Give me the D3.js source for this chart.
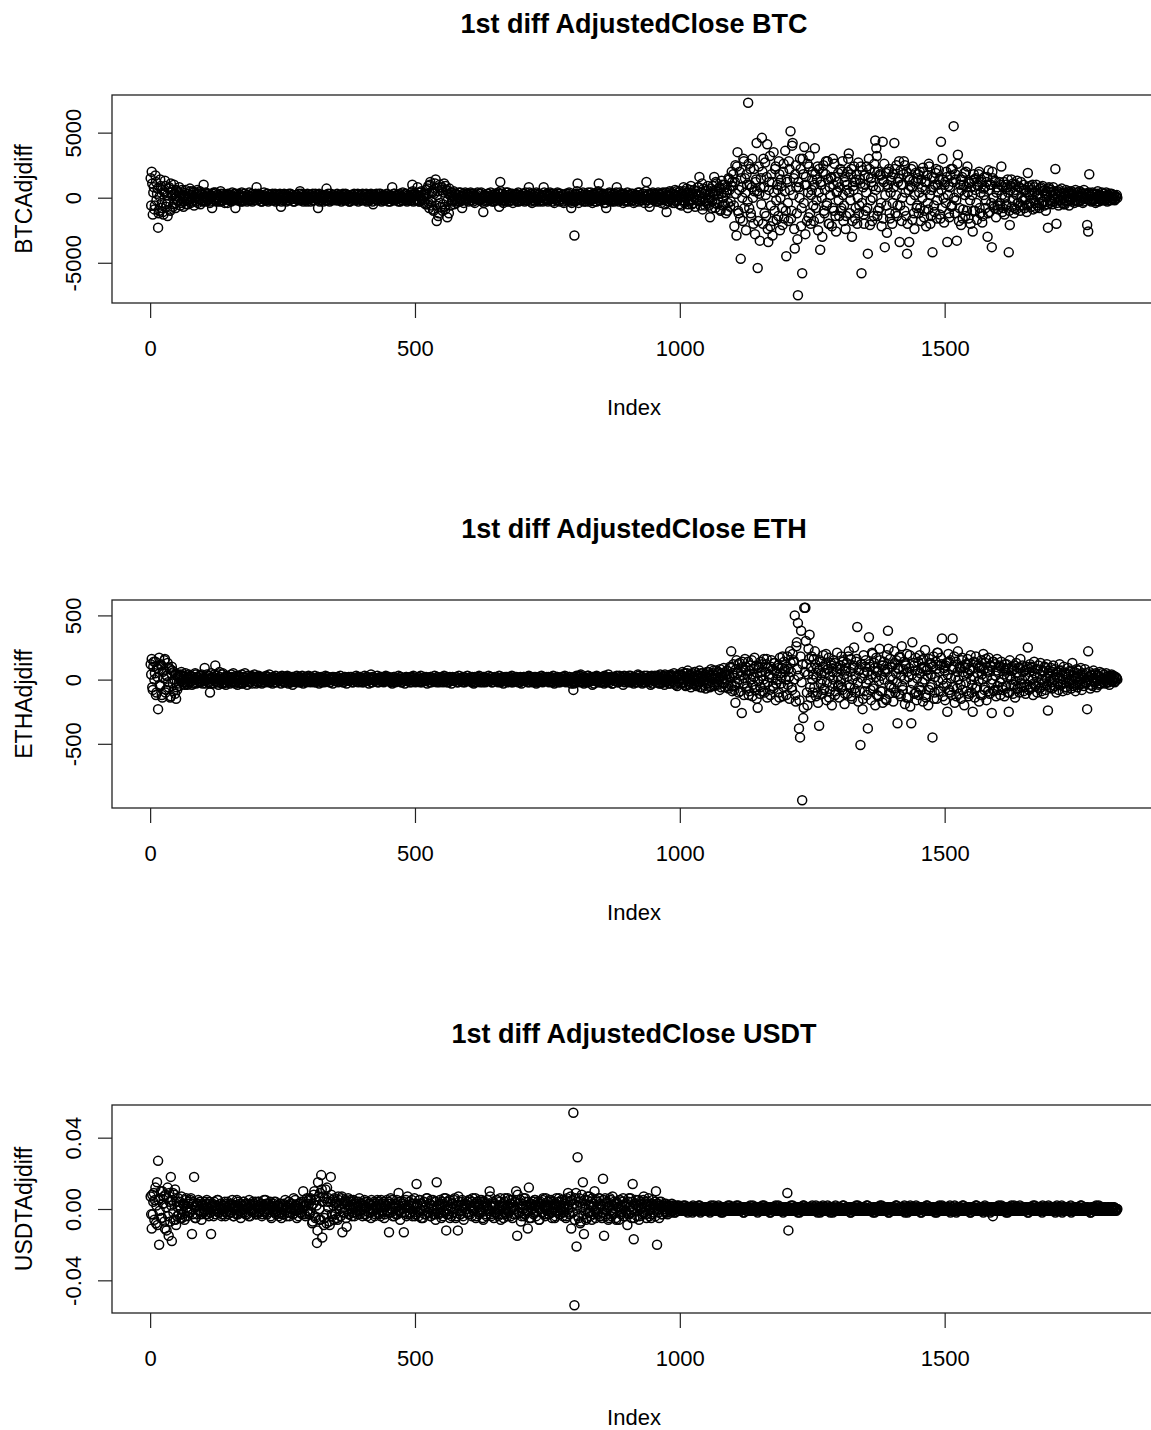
<!DOCTYPE html>
<html>
<head>
<meta charset="utf-8">
<script src="https://cdn.jsdelivr.net/npm/d3@7"></script>
<style>
body { margin: 0; background: #fff; }
</style>
</head>
<body>
<div class="plots"></div>
<script>
// first differences of adjusted close, 1826 days per coin.
// each coin is kept as two arrays: odd indices (1, 3, ... 1825) and even indices (2, 4, ... 1826)
const nDays = 1826;

// BTC, in hundreds of USD
const btcOdd = [
15, 20, -13, 8, -6, 12, 3, -23, -10, 14, -8, 6, -13, 4, 9, -5, -14, 7, -9, 11, 2, -7, 10, -4, 6,
5, -3, 8, -6, 2, 4, -7, 1, 6, -2, -5, 3, 7, -4, 0, 5, -6, 2, -3, 6, -1, 4, -5, 3, -2,
10, -3, 4, 1, -2, 3, -4, 2, -8, 3, -1, 4, -3, 2, 0, -2, 5, -3, 1, 3, -4, 2, -1, 3, -2,
2, -3, 4, -1, 3, -8, 1, -2, 3, 0, -3, 4, -2, 1, 3, -1, -3, 2, 4, -2, 1, -3, 2, 0, 3,
8, -2, 3, -1, 2, -3, 1, 4, -2, 0, 3, -3, 2, -1, 1, 3, -2, 2, -3, 0, 2, -1, 3, -7, 1,
-2, 3, 0, -3, 2, 1, -2, 3, -1, 2, -3, 1, 0, 2, -2, 3, 5, -1, 2, -3, 1, 0, -2, 3, -1,
2, -3, 1, 3, -2, 0, 2, -1, -8, 3, -2, 1, 2, -3, 0, 2, 7, -2, 1, -3, 3, 0, -1, 2, -2,
1, 3, -2, 0, 2, -3, 1, 2, -1, 3, -2, 0, 1, -3, 2, 1, -2, 3, 0, -1, 2, -3, 1, 2, -2,
3, -1, 0, 2, -3, 1, 2, -2, 3, 0, -5, 2, -1, 3, -2, 1, 0, 3, -3, 2, 1, -2, 0, 3, -1,
2, -3, 1, 8, -2, 3, 0, -1, 2, -3, 3, 1, -2, 4, -1, 0, 3, -3, 2, 1, -2, 4, 10, -3, 2,
3, -2, 8, 1, -3, 4, -1, 2, -4, 3, 6, -5, 9, -8, 12, -6, 4, -10, 7, 14, -18, 5, -12, 10, -7,
8, -5, 11, -9, 6, -15, 3, 7, -6, 4, -3, 5, -2, 3, -4, 2, 4, -3, 1, -8, 3, -2, 4, -1, 2,
-3, 2, 4, -2, 1, 3, -4, 0, 2, -1, 3, -2, 4, -3, -11, 2, 1, -3, 3, 0, -2, 4, -1, 2, -3,
3, 1, -2, 4, -7, 12, -2, 3, -4, 1, 2, -3, 4, 0, -2, 3, 1, -4, 2, -1, 3, -3, 4, -2, 1,
-2, 3, 0, -3, 4, 1, -2, 8, -1, 3, -4, 2, 0, -3, 4, -2, 1, 3, -2, 0, -3, 8, 2, -1, 3,
-3, 2, 4, -1, 0, 3, -4, 2, -2, 4, 1, -3, 3, -1, 2, -4, 0, 3, -2, 1, 4, -3, -8, 2, -1,
-29, 3, -2, 11, -4, 1, 3, -2, 4, -3, 0, 2, -1, 4, -3, 2, 1, -4, 3, -1, 2, -3, 4, 11, -2,
3, -1, 2, -4, 0, -8, 3, -2, 4, 1, -3, 2, -1, 3, -2, 8, 0, -3, 4, -1, 2, -4, 3, 1, -2,
4, -3, 1, 2, -2, 3, -4, 0, 2, -1, 4, -3, 2, 1, -2, 3, -4, 1, 12, -2, 3, -7, 2, -1, 4,
-2, 3, -3, 1, 4, -1, 2, -4, 3, 0, -2, 4, -11, 2, -3, 5, -1, 3, -4, 2, 6, -3, 1, 4, -5,
5, -6, 3, 8, -4, 2, 7, -8, 4, -3, 9, -5, 1, 6, -7, 3, -2, 8, 16, -6, 4, -9, 7, -3, 5,
-4, 9, -6, -15, 7, -3, 5, 16, -8, 11, -5, 3, 8, -10, 13, -6, 4, 10, -12, 6, -4, 14, -7, 9, 12,
18, -22, 25, -29, 35, -12, 20, -47, 8, -18, 28, 15, -25, 10, 73, -8, 22, -15, 30, -20, 5, 12, 42, -54, 24,
-33, 15, 46, -20, 8, 27, -14, 41, -34, 12, -22, 18, -29, 35, -10, 24, -17, 6, 28, -25, 14, -8, 20, -16, 36,
-45, 12, -18, 22, 51, -10, 42, 15, -39, 25, -12, -75, 8, 30, -22, -58, 18, 39, -28, 10, 26, -15, 32, -20, 6,
20, -18, 38, -8, 14, -25, 22, -40, 10, -30, 25, -12, 18, -6, 28, -20, 8, 15, -22, 30, -10, 16, -26, 5, 19,
-14, 22, -8, 28, -18, 12, -24, 6, 20, 34, -12, 18, -30, 9, 24, -16, 14, -20, 27, -6, 11, -58, 21, -13, 17,
-10, 24, -43, 30, -21, 15, -18, 9, 26, 44, 38, -14, 20, -8, 17, -22, 43, 12, -38, 19, -27, 8, 22, -16, 13,
-20, 18, 42, -12, 25, -6, 15, -34, 21, -18, 10, 28, 25, -14, -43, 16, -34, 9, 22, -17, 13, -24, 19, -8, 15,
-12, 20, -18, 8, 23, -15, 12, -22, 17, -9, 24, -20, 6, -42, 15, -11, 19, -16, 10, 21, -13, 43, -8, 14, -19,
12, 20, -34, 9, -15, 17, -7, 22, 55, -12, 14, -33, 33, -18, 10, -21, 16, -9, 19, -14, 8, 24, -16, 11, -20,
13, -26, 18, -10, 15, -17, 9, 20, -12, 14, -19, 7, 16, -8, 12, -30, 21, -11, 10, -38, 15, -6, 13, -15, 8,
-9, 12, -6, 24, -11, 8, -13, 10, -5, 14, -42, -21, 9, -7, 11, -12, 6, -9, 13, -4, 8, -10, 7, -6, 10,
-8, 6, -11, 19, -5, 9, -7, 4, -9, 8, -4, 10, -6, 3, -8, 7, -5, 9, -3, 6, -10, 5, -23, 8, -4,
6, -5, 8, -3, 22, -20, 5, -6, 4, -2, 7, -4, 3, -5, 6, -2, 4, -6, 3, 5, -3, 2, -4, 6, -2,
4, -3, 5, -2, 3, -4, 6, -1, 3, -21, -26, 18, 2, -3, 4, -2, 3, -4, 1, 5, -3, 2, -2, 4, -1,
3, -2, 4, -3, 2, 1, -2, 3, -1, 2, -2, 1, 2
];
const btcEven = [
-6, 11, 4, -9, 17, -2, 7, -12, 1, 9, -4, -11, 5, 13, -7, 2, -3, 8, -10, 4, 6, -5, 3, -8, 1,
-2, 4, 0, -4, 6, 1, -3, 2, -5, 3, 0, -1, 5, -3, 2, 4, -2, 0, 3, -4, 1, 5, -1, 2, -3,
1, -2, 0, 3, -1, 2, -3, 0, 1, 4, -2, 0, 2, -1, -3, 1, 3, -2, 0, 2, -1, 1, -4, 2, 0,
-1, 2, 1, -2, 0, 3, -1, -2, 1, 2, 0, -3, 1, 3, -1, 0, 2, -2, 1, -1, 3, 0, -2, 1, 2,
0, -1, 2, 1, -3, 0, 2, -1, 1, -2, 3, 0, -1, 2, -2, 1, 0, 3, -1, -2, 1, 2, 0, -3, 1,
2, -1, 0, 1, -2, 3, 0, -1, 2, 1, -3, 0, 2, -1, 1, 0, -2, 3, 1, -1, 0, 2, -3, 1, 0,
-1, 2, 0, -2, 1, 3, -1, 0, 2, -3, 1, 0, -1, 2, 1, -2, 0, 3, -1, 1, -2, 0, 2, -1, 1,
0, -2, 2, 1, -1, 0, 3, -2, 1, 0, -1, 2, -3, 1, 0, 2, -1, 1, -2, 0, 3, -1, 0, 2, -2,
1, 0, -1, 3, -2, 0, 1, 2, -1, -3, 0, 2, 1, -2, 0, 3, -1, 1, 0, -2, 2, -1, 1, 0, -3,
1, 2, -1, 0, 3, -2, 1, 0, -1, 2, -3, 1, 0, 2, -1, 3, -2, 0, 1, -1, 2, 0, 5, -2, 1,
-1, 2, 4, -3, 1, 5, -2, 0, 3, -5, 2, 7, -4, 10, -3, 5, -9, 3, 11, -6, 2, -14, 8, -4, 6,
-10, 4, -7, 9, -3, 5, -12, 2, 4, -2, 1, -5, 3, 0, -3, 2, -1, 4, -2, 1, -4, 2, 0, 3, -1,
1, -2, 3, 0, -3, 2, 1, -1, 4, -2, 0, 3, -1, 1, -4, 2, 0, -2, 3, 1, -1, 2, -3, 0, 1,
-2, 2, 0, -1, 3, 5, -3, 1, 0, -2, 4, -1, 2, -3, 1, 0, 3, -2, 1, -1, 2, 0, -3, 1, 2,
-1, 1, 3, -2, 0, 2, -1, 4, -3, 1, 0, -2, 3, 1, -1, 2, -3, 0, 1, 2, -2, 4, 0, -1, 2,
-2, 1, 3, 0, -3, 2, -1, 1, 0, 3, -2, 1, -1, 2, -3, 0, 2, 1, -1, 3, 0, -2, -4, 1, 0,
-3, 2, 5, -1, 0, 3, -2, 1, 2, -1, -3, 0, 2, 1, -2, 4, -1, 0, 2, -3, 1, 3, 5, -2, 0,
1, -2, 3, 0, -4, 2, 1, -1, 3, -2, 0, 2, -3, 1, 4, -1, 2, 0, -2, 3, -1, 1, 0, -3, 2,
0, 2, -1, 3, -2, 1, 0, -3, 2, 1, -1, 4, -2, 0, 3, -1, 1, 5, -2, 2, -4, 0, 3, -1, 1,
-1, 2, 0, -3, 1, 3, -2, 0, 4, -1, -5, 2, 1, -3, 2, 4, -2, 0, 3, -4, 1, 5, -2, 2, 0,
3, -2, 1, 5, -3, 0, 4, -5, 2, 6, -1, 3, -4, 0, 5, -2, 8, 2, -3, 4, 11, -1, 3, -6, 2,
6, -2, 0, 4, -8, 9, 2, -4, 12, 5, -1, 7, -9, 3, 10, 0, -5, 8, 4, -10, 15, 6, -3, 20, 9,
-6, 12, 3, 24, -10, 6, -16, 15, 0, 30, -8, 4, 18, -3, 26, 10, -12, 8, 0, 22, -28, 14, 5, -18, 3,
8, -5, 20, 30, -12, 2, 16, -24, 6, 32, -6, 12, -18, 4, 22, -2, 10, -14, 18, 0, 9, -21, 26, 5, -10,
14, -4, 28, 6, -16, 40, 2, -24, 18, 8, -32, 12, 0, 22, -8, 30, -4, 10, 16, -18, 4, 24, -12, 2, 14,
-6, 10, 18, -2, 24, 4, -16, 12, 0, 20, -10, 6, 28, -4, 14, -20, 2, 16, -8, 10, 26, -14, 4, 12, -2,
8, -10, 20, 2, -6, 16, -14, 10, 30, 4, -2, 22, -18, 6, 12, -8, 18, 0, -12, 14, 24, -4, 8, -20, 10,
4, -8, 16, 22, -2, 12, 0, -14, 20, 6, 32, -10, 8, 18, -4, 14, -16, 26, 2, -6, 10, 20, -12, 4, 16,
-4, 8, 22, 2, -14, 12, 28, -6, 10, 0, 18, -10, 4, 20, -20, 6, 14, -2, 8, 24, -12, 2, 12, -6, 18,
4, -8, 14, 0, 20, -10, 6, 12, -4, 26, 2, -14, 16, 8, -6, 10, 22, -2, 4, 14, -16, 6, 30, 0, 10,
-4, 16, 2, -12, 8, 22, -6, 12, 0, 18, -2, 26, 4, -8, 14, 6, -16, 10, 2, 20, -10, 4, 12, -2, 8,
2, -10, 14, 6, -4, 10, 18, -8, 4, 12, -14, 2, 8, -2, 16, -12, 6, 10, -4, 20, 0, -8, 12, 4, -6,
6, -4, 10, 2, -8, 12, 0, -6, 8, 4, -10, 6, 14, -2, 4, -8, 10, 2, -4, 8, -6, 12, 0, -2, 6,
-2, 4, -6, 8, 2, -4, 6, 10, -2, 4, -8, 2, 6, -4, 0, 8, -3, 5, -6, 3, 1, -5, 7, -2, 4,
-3, 2, 5, -1, 3, -4, 1, 6, -2, 3, 0, -5, 4, 2, -3, 1, 5, -1, -2, 3, 0, 4, -2, 1, -3,
2, 0, -2, 4, 1, -3, 3, 0, 2, -1, 4, -2, 1, 3, -1, 0, 2, -3, 3, 1, -1, 2, 0, -2, 3,
1, -1, 2, 0, -2, 3, 1, -1, 0, 2, -1, 1, 0
];

// ETH, in tens of USD
const ethOdd = [
12, 16, -8, 14, 5, -12, 9, -23, 17, -5, 11, -14, 7, 15, -10, 3, 13, -6, 8, -13, 10, -3, 6, -11, -15,
-8, 4, -5, 3, 6, -2, 2, -4, 5, -3, 1, 4, -2, 3, -4, 2, 0, 5, -3, 2, -1, 3, -2, 4, -3,
2, 9, -3, 4, -2, 3, -10, 5, 1, -3, 4, 11, -2, 3, -4, 6, 0, -3, 5, -2, 2, -4, 3, -1, 2,
-3, 4, -2, 5, 1, -3, 2, -4, 3, 0, -2, 4, -3, 2, 5, -1, -4, 3, 1, -2, 3, -3, 2, 4, -1,
2, -2, 3, -1, 1, -3, 2, 0, -2, 3, -1, 2, 4, -2, 1, -3, 2, 0, 3, -2, 1, -1, 2, -3, 3,
-1, 2, -2, 0, 3, -3, 1, 2, -1, -4, 2, 0, -2, 3, 1, -2, 2, -1, 3, -3, 0, 2, -2, 1, 3,
1, -2, 2, 0, -1, 3, -2, 1, 2, -3, 0, 2, -1, 1, -2, 3, 0, -1, 2, -2, 1, 0, -3, 2, 1,
-1, 2, -2, 0, 3, -1, 1, -2, 2, 0, -3, 1, 2, -1, 0, 2, -2, 1, -1, 3, 0, -2, 1, 2, -1,
0, -2, 3, 1, -1, 2, -3, 0, 4, -2, 2, 1, -1, 0, 3, -2, 1, -1, 2, 0, -2, 1, 3, -1, 0,
2, -1, 1, -3, 0, 2, -2, 1, 0, 3, -1, 2, -2, 0, 1, -3, 2, 1, -1, 0, 2, -2, 1, 3, -1,
-2, 1, 0, 2, -1, 3, -2, 0, 1, -1, 2, -3, 1, 0, 2, -2, 1, -1, 3, 0, -2, 2, 1, -1, 0,
1, -2, 3, 0, -1, 2, -2, 1, 0, -3, 2, 1, -1, 2, 0, -2, 3, -1, 1, 0, -2, 2, -1, 1, 3,
-1, 0, 2, -2, 1, -3, 2, 0, 1, -1, 3, -2, 0, 1, 2, -1, -2, 1, 0, 3, -1, 2, -2, 0, 1,
2, -1, 0, -2, 3, 1, -1, 2, -3, 0, 1, 2, -2, 1, -1, 0, 3, -2, 1, 2, -1, 0, -2, 1, 2,
-3, 1, 2, -1, 0, 2, -2, 3, 1, -1, 0, -2, 2, 1, -3, 0, 2, -1, 1, 3, -2, 0, 1, -1, 2,
0, -2, 1, 2, -1, 3, -3, 1, 0, 2, -2, 1, -1, 2, 0, -1, 3, -2, 1, 0, 2, -1, -3, 1, -8,
2, -1, 3, 0, -2, 1, 4, -1, 2, -3, 0, 1, -2, 3, -1, 2, 0, -4, 1, 2, -1, 3, -2, 0, 1,
-2, 2, 1, -3, 0, 2, -1, 4, -2, 1, 0, -3, 2, 1, -1, 3, -2, 0, 2, -1, 1, -4, 3, 0, -1,
2, -2, 1, 3, -1, 0, -3, 2, 1, -2, 4, -1, 0, 2, -3, 1, 3, -2, 0, 1, -1, 2, -4, 3, 1,
-1, 3, -2, 2, 0, -3, 4, 1, -2, 3, -4, 2, 0, -1, 3, -3, 4, 1, -2, 5, -3, 2, -5, 4, 3,
4, -3, 6, -2, 5, -5, 2, 7, -4, 3, -6, 5, 1, -3, 6, -5, 4, -2, 7, -6, 3, 5, -4, 2, -7,
6, -3, 4, -6, 8, -2, 5, -5, 3, 7, -4, 6, -8, 2, 5, -3, 9, -6, 4, 7, -5, 3, 10, 22, -9,
12, -8, -18, 15, 5, -10, 13, 3, -26, 9, -12, 16, 7, -5, 14, -9, 11, 4, -13, 8, 17, -6, -15, -22, 10,
-11, 14, 6, -9, 16, -4, 12, -14, 9, 2, -12, 15, 8, -7, 13, -16, 5, 11, -10, 17, -3, 9, -13, 14, 6,
-12, 18, 8, -15, 13, -6, 20, 15, 50, -17, 29, 44, -38, -45, 38, -94, -30, 56, 56, 12, -20, 24, 35, -14, 18,
-10, 16, 22, -13, 9, -18, -36, 14, 5, -11, 19, -7, 12, -16, 8, 17, -9, 13, -20, 6, 15, -12, 10, 21, -5,
-14, 11, 18, -8, 15, -19, 7, 13, -11, 22, -6, 16, -15, 9, 25, -10, 14, 41, -17, 8, -51, 12, -23, 19, -9,
15, -12, -38, 33, 10, -16, 21, -7, 13, -20, 17, 6, -13, 24, -9, 11, -18, 14, 8, -15, 19, 38, -11, 16, -6,
12, -17, 22, -10, 15, -34, 8, 18, -13, 26, -8, 14, -19, 11, 20, -14, 9, -21, -34, 29, 13, -11, 17, -16, 7,
-12, 19, -8, 15, -17, 10, 23, -14, 8, -20, 16, -6, 12, -45, 18, -10, 14, -15, 21, -9, 11, 17, 32, -13, 9,
-16, 13, -25, 20, -8, 15, -12, 32, 10, -18, 14, -7, 22, -11, 9, -15, 17, 6, -20, 12, -9, 16, -13, 8, 19,
-10, -25, 14, -14, 18, -6, 11, -17, 9, 15, -12, 20, -8, 13, -16, 7, 17, -11, 10, -26, 14, -9, 12, -13, 16,
-8, 11, -12, 14, -6, 9, -13, 7, 12, -10, -25, 15, -5, 10, -11, 8, -14, 13, -7, 9, -10, 16, -6, 11, -9,
7, -11, 10, 25, -8, 12, -6, 9, -12, 14, -5, 8, -10, 11, -7, 13, -9, 6, -11, 10, -8, 12, -24, 7, -6,
9, -7, 11, -5, 8, -10, 6, -8, 12, -4, 7, -9, 10, -6, 5, -8, 9, -3, 7, -7, 13, -5, 6, -9, 8,
-6, 7, -4, 9, -8, 5, -5, 8, -3, -23, 22, 6, -7, 4, -5, 7, -2, 5, -6, 3, -4, 6, -3, 5, -2,
4, -3, 5, -2, 3, -4, 2, 4, -1, 3, -2, 2, 1
];
const ethEven = [
4, -6, 10, 0, 14, -10, 2, 8, -4, 12, -12, 6, 1, 16, -8, 3, -2, 9, -14, 5, 7, -9, 0, 4, -6,
2, -3, 1, 4, -1, 0, 3, -2, 1, -4, 2, 0, 3, -1, 2, -3, 1, 4, -2, 0, 1, -2, 3, 0, -1,
1, -1, 2, 0, 3, -2, 1, -3, 2, 0, -1, 3, 1, -2, 0, 2, -1, 4, -3, 1, 0, -2, 2, 1, -1,
0, 2, -1, 1, -2, 3, 0, -1, 2, 1, -3, 0, 2, -2, 1, 0, 3, -1, -2, 1, 2, 0, -1, 2, -3,
1, 0, -1, 2, -2, 1, 0, 1, -1, 2, 0, -2, 1, -1, 0, 2, 1, -2, 0, 1, -1, 2, 0, -1, 1,
-2, 1, 0, 2, -1, 0, 1, -2, 2, 0, -1, 1, 0, -1, 2, 1, -2, 0, 1, -1, 0, 2, -1, 1, 0,
2, -1, 0, 1, -2, 1, 0, -1, 2, 0, 1, -2, 0, 1, -1, 2, 0, -1, 1, -2, 0, 2, 1, -1, 0,
-1, 2, 0, 1, -1, 0, -2, 1, 2, -1, 0, 1, -1, 2, 0, -2, 1, 0, -1, 1, 2, 0, -1, 1, -2,
0, 1, -1, 2, 0, -1, 1, 0, -2, 2, 1, -1, 0, 1, -2, 0, 2, -1, 1, 0, -1, 2, 0, 1, -1,
1, -2, 0, 1, 2, -1, 0, -1, 1, 0, 2, -2, 1, 0, -1, 1, 2, 0, -1, -2, 1, 0, 2, -1, 0,
-1, 1, 2, 0, -2, 1, -1, 0, 2, 1, -1, 0, 1, -2, 2, 0, -1, 1, 0, -1, 2, 1, -2, 0, 1,
2, 0, -1, 1, -2, 0, 1, 2, -1, 0, 1, -1, 0, 2, -2, 1, 0, -1, 1, 2, 0, -2, 1, -1, 0,
0, -1, 1, 2, -1, 0, -2, 1, 0, 2, -1, 1, 0, -2, 1, 2, 0, -1, 1, 0, -1, 2, -2, 0, 1,
1, 2, -1, 0, 1, -2, 0, 1, -1, 2, 0, -1, 1, 0, 2, -2, 1, -1, 0, 1, 2, -1, 0, -2, 1,
-1, 0, 2, 1, -1, 0, 1, -2, 2, 0, -1, 1, 0, 2, -1, -2, 1, 0, 1, -1, 2, 0, -1, 1, 0,
2, -1, 1, 0, -2, 1, 0, -1, 2, 1, 0, -2, 1, -1, 0, 2, -1, 1, 0, -1, 2, 0, 1, -2, -3,
-2, 1, 0, 2, -1, 3, 0, -2, 1, 2, -1, 0, 3, -2, 1, 0, -1, 2, -3, 1, 0, 2, -1, 1, -2,
0, 2, -1, 3, -2, 1, 0, -1, 2, 0, -3, 1, 2, -1, 0, 1, -2, 3, 0, -1, 2, 1, -2, 0, 1,
-1, 3, 0, -2, 1, 2, -1, 0, -2, 1, 3, 0, -1, 2, -2, 0, 1, -1, 3, 1, -2, 0, 2, -3, 0,
2, -1, 0, 3, -2, 1, -3, 2, 0, -1, 4, -2, 1, 0, -3, 2, 3, -1, 0, 2, -4, 1, 3, -2, 0,
1, -2, 3, 0, -4, 2, 5, -1, 0, 4, -3, 2, -1, 6, 0, -4, 3, 1, -2, 5, -6, 2, 0, 4, -3,
2, 6, -1, -5, 3, 0, 7, -4, 1, 5, -2, 0, 8, -6, 3, 1, -3, 6, 0, 4, -7, 2, 9, -5, 5,
3, -5, 8, -2, 12, 0, -9, 6, 14, -3, 1, 10, -7, 4, -12, 7, 0, 15, -4, 2, -8, 11, 5, -1, 9,
-6, 3, 12, 0, -10, 6, 16, -2, 4, -8, 10, 1, -5, 13, 7, -3, 0, 9, -14, 5, 2, 18, -6, 8, 0,
10, -4, 2, 22, 6, -8, 14, 0, -12, 26, 8, 3, -16, 18, -2, 12, -22, 6, 30, -10, 4, 16, -6, 9, 0,
4, -6, 12, 2, -10, 7, 15, -3, 0, 10, -8, 5, 20, -2, 8, -14, 3, 11, -5, 0, 13, -9, 6, 2, -4,
8, 0, -6, 14, 4, -11, 9, 2, 18, -4, 6, -13, 0, 11, -7, 3, 16, -2, 7, -9, 12, 1, -15, 5, 10,
-3, 6, 0, 12, -8, 4, 20, -5, 9, 2, -12, 7, -1, 15, 3, -9, 11, 0, 6, -16, 8, 24, -4, 2, 10,
0, -7, 13, 5, -2, 9, -11, 17, 3, -5, 8, 0, 12, -14, 6, 2, 19, -8, 4, -3, 11, 7, -10, 1, 14,
-6, 5, 9, -2, 16, 0, -12, 7, 3, -8, 13, 4, -4, 10, -15, 2, 8, 21, -1, 6, -9, 12, 0, -5, 7,
11, -3, 4, 14, -10, 1, 8, -6, 18, 2, -13, 6, 0, 10, -4, 15, -8, 3, 9, -2, 12, 5, -11, 7, 0,
-4, 9, 2, -7, 13, 5, -1, 10, -12, 4, 0, 8, -6, 16, 2, -9, 6, 11, -3, 0, 14, -8, 3, 7, -5,
6, -2, 10, 0, -8, 4, 12, -5, 2, 8, -10, 3, 0, 7, -4, 11, -1, 5, -7, 2, 9, -3, 0, 6, -6,
3, 8, -4, 1, 6, -7, 10, 0, -3, 5, -5, 2, 8, -2, 4, -6, 0, 7, -3, 9, 1, -4, 5, -1, 3,
-2, 6, 0, -5, 4, 2, -3, 7, 1, -4, 3, 0, 5, -2, -6, 2, 4, -1, 6, 0, -3, 3, 1, -4, 5,
2, -1, 4, 0, -3, 3, 1, -2, 5, -1, 0, 2, -4, 3, 1, -2, 4, 0, -1, 3, -3, 2, 0, 1, -2,
1, -1, 2, 0, -2, 1, 3, -1, 0, 2, -1, 1, 0
];

// USDT, in thousandths of USD
const usdtOdd = [
7, -11, -3, 9, 5, -8, 15, 27, -20, 6, -5, 10, 3, -7, 8, -12, 12, -15, 4, 18, -18, 9, -6, 11, -9,
-4, 6, 2, -5, 7, -3, 3, -6, 5, 1, -4, 4, -2, 6, -14, 3, 18, -5, 2, -3, 5, -1, 4, -6, 3,
-2, 4, -3, 5, 1, -4, 3, -14, 2, -1, 4, -3, 2, 5, -2, 0, 3, -4, 2, -1, 4, -2, 3, -3, 1,
3, -2, 5, -4, 1, 2, -3, 4, -1, 3, -5, 2, 0, 4, -2, 3, -3, 1, 5, -4, 2, -1, 3, -2, 4,
-3, 2, 4, -1, 3, -4, 1, 5, -2, 3, -3, 2, 0, 4, -5, 1, 3, -2, 4, -1, 2, -4, 3, 1, -3,
2, -3, 5, 1, -2, 4, -4, 3, 0, -3, 6, -1, 2, -5, 3, 1, -2, 4, -3, 10, 2, -4, 3, -1, 5,
-3, 6, 2, -7, 8, -4, 5, -19, 15, -6, 9, 19, -16, 7, -5, 11, -8, 4, 6, -9, 18, -3, 5, -6, 3,
4, -5, 7, 2, -4, 6, -13, 3, -2, 5, -10, 4, -3, 2, 5, -4, 1, 3, -2, 4, -3, 2, 6, -1, 3,
-4, 2, 5, -3, 1, 4, -2, 3, -5, 2, 0, 4, -3, 1, 5, -2, 3, -4, 2, -1, 4, -3, 2, 5, -2,
-13, 3, -2, 5, 1, -4, 3, 2, -3, 9, -1, 4, -2, 3, -13, 2, 5, -3, 1, 4, -2, 3, -4, 2, 6,
-3, 14, 2, -4, 5, -1, 3, -5, 4, 1, -3, 6, -2, 3, -4, 5, 0, -3, 4, -6, 15, 2, -3, 5, -2,
3, -4, 6, -2, -12, 4, -3, 5, 1, -4, 3, -2, 6, -5, 2, -12, 4, -3, 2, 5, -4, 1, 3, -2, 4,
-3, 5, 2, -4, 6, -1, 3, -5, 4, 1, -3, 5, -2, 4, -6, 2, 3, -4, 5, -1, 10, -3, 2, 4, -5,
3, -2, 5, -4, 1, 6, -3, 2, -5, 4, 0, -3, 6, -2, 3, -4, 5, 1, -3, 4, 10, -15, 3, -2, 5,
-4, 2, 6, -3, 4, -1, -11, 12, 3, -5, 2, 4, -2, 5, -4, 1, 3, -6, 4, -2, 5, 2, -3, 6, -1,
4, -3, 2, 5, -5, 1, 3, -4, 6, -2, 4, -3, 1, 5, -4, 2, 3, -5, 6, 9, -2, 4, -11, 5, 54,
-54, 6, -21, 29, -5, 4, -7, 8, 15, -14, 3, -6, 5, -2, 7, -4, 2, 6, -3, 10, -5, 4, -2, 6, -4,
3, -5, 17, -15, 6, -3, 4, -6, 2, 5, -4, 7, -2, 3, -5, 4, 1, -6, 5, -3, 2, 6, -4, 3, -2,
-9, 4, -3, 6, -5, 14, -17, 3, 5, -4, 2, -6, 4, 1, -3, 5, -2, 4, -5, 3, 6, -4, 2, -3, 5,
-2, 4, 10, -20, 3, -5, 2, 4, -3, 1, 3, -2, 2, -3, 1, 2, -2, 3, -1, 2, -2, 1, 2, -1, 1,
1, -1, 0, 2, -1, 1, 0, -2, 1, 0, -1, 1, 2, -1, 0, 1, -1, 0, 2, -2, 1, 0, -1, 1, 0,
-1, 1, 0, -2, 2, 0, -1, 1, 0, 1, -1, 2, 0, -1, 1, -2, 0, 1, -1, 0, 2, -1, 1, 0, -1,
1, 0, -1, 2, -1, 0, 1, -1, 0, 1, -2, 1, 0, -1, 1, 0, 2, -1, 0, 1, -1, 0, 1, -2, 1,
0, -1, 1, 0, 2, -1, 0, 1, -1, 0, -2, 1, 1, -1, 0, 2, -1, 0, 1, 0, -1, 1, -2, 0, 1,
-1, 9, -12, 1, 0, -1, 2, 0, -1, 1, 0, -2, 1, 0, -1, 1, 2, -1, 0, 1, -1, 0, 1, -1, 0,
1, -1, 0, 2, -1, 0, 1, -2, 1, 0, -1, 1, 0, -1, 2, 0, -1, 1, 0, -2, 1, -1, 0, 1, 0,
-1, 1, 0, -1, 2, -1, 0, 1, 0, -1, 1, -2, 0, 1, -1, 0, 2, -1, 1, 0, -1, 1, 0, -1, 1,
0, 2, -1, 0, 1, -1, 0, -2, 1, 0, 1, -1, 0, 1, -1, 2, 0, -1, 1, 0, -1, 1, -2, 0, 1,
-1, 0, 1, -1, 2, 0, -1, 1, 0, -1, 1, 0, -2, 1, 0, -1, 1, 2, -1, 0, 1, -1, 0, 1, -1,
0, 1, -2, 1, 0, -1, 1, 0, 2, -1, 0, 1, -1, 0, 1, -1, 0, -2, 1, 0, 1, -1, 2, 0, -1,
1, 0, -1, 1, 0, -2, 1, -1, 0, 2, -1, 1, 0, -1, 0, 1, -1, 2, 0, -1, 1, 0, -1, 1, -2,
0, 1, -1, 0, 2, -1, 0, 1, -1, 0, 1, -2, 0, 1, -1, 0, 1, 0, -1, 1, -4, 1, 0, -1, 1,
0, -1, 1, 2, -1, 0, 1, -1, 0, -2, 1, 0, 1, -1, 0, 2, -1, 1, 0, -1, 1, 0, -1, 1, 0,
-1, 1, 0, -2, 1, 0, -1, 1, 2, -1, 0, 1, -1, 0, 1, -1, 0, 2, -1, 0, 1, -1, 1, 0, -1,
1, 0, -1, 1, -2, 0, 1, -1, 0, 1, 2, -1, 0, 1, -1, 0, 1, -1, 0, -2, 1, 0, -1, 1, 0,
1, -1, 0, 2, -1, 0, 1, -1, 0, 1, -1, 0, -2, 1, 0, 1, -1, 0, 1, -1, 2, 0, -1, 1, 0,
-1, 1, 0, -1, 1, 0, -1, 1, 0, 1, -1, 0, 0
];
const usdtEven = [
-3, 8, 4, -6, 12, 2, -9, 5, -1, 10, -5, 3, 7, -11, 1, 6, -4, 9, -7, 2, 5, -2, 8, -6, 4,
1, -3, 4, 0, -5, 3, 2, -4, 6, -1, 3, -2, 5, 0, -3, 4, 1, -5, 2, 3, -1, 4, -3, 2, 0,
2, -1, 3, -3, 0, 4, -2, 1, 3, -4, 2, 0, -1, 5, -2, 1, 3, -3, 0, 2, -4, 1, 4, -1, 2,
-2, 3, 1, -4, 2, 0, 5, -3, 1, -1, 3, -2, 4, 0, -3, 2, 1, -4, 3, -1, 0, 4, -2, 2, -3,
1, 4, -2, 0, 3, -3, 2, -1, 5, 0, -2, 3, 1, -4, 2, -1, 4, 0, -3, 2, 1, -2, 3, -5, 0,
3, -1, 2, -4, 1, 4, -2, 0, 3, -3, 1, 5, -1, 2, -4, 0, 3, -2, 1, 4, -3, 2, 6, -1, 3,
-2, 5, -8, 3, 10, -5, 2, -12, 7, 0, -6, 11, 4, -9, 6, -3, 12, 1, -7, 4, 8, -4, 2, 6, -3,
3, -6, 5, 0, -4, 7, -2, 4, 1, -5, 3, 6, -3, 0, 4, -2, 5, -4, 1, 3, -1, 4, -3, 2, 0,
2, -3, 4, 1, -4, 3, 0, -2, 5, -1, 3, -4, 2, 0, 4, -3, 1, 5, -2, 3, -5, 1, 2, -1, 4,
-2, 6, 0, -4, 3, 1, -3, 5, -1, 2, -6, 3, 0, 4, -2, 1, -4, 7, 2, -3, 0, 5, -1, 3, -4,
1, 3, -2, 5, 0, -5, 2, 4, -3, 1, 6, -2, 0, 3, -4, 2, 5, -1, -3, 4, 0, -2, 3, 1, -5,
4, -1, 2, 6, -3, 0, 4, -5, 1, 3, -2, 5, 0, -4, 2, 7, -1, -3, 4, 1, -6, 3, 0, 2, -2,
5, -3, 1, 4, -1, 0, 6, -4, 2, 3, -2, 0, 5, -5, 1, 4, -3, 2, 0, -1, 7, -4, 3, 1, -2,
2, 5, -3, 0, 4, -6, 1, 3, -2, 6, 0, -4, 2, 5, -1, 3, -5, 1, 0, 4, -3, 8, -2, 1, -7,
3, 0, -4, 6, 2, -2, 4, -5, 1, 3, 0, -3, 5, 2, -1, 4, -6, 0, 3, -2, 6, 1, -4, 2, 0,
-3, 5, 1, -2, 4, 0, -5, 3, 2, -1, 6, -3, 0, 4, -2, 1, 5, -4, 2, 0, -3, 7, 1, -2, 3,
-6, 9, 2, -4, 6, -8, 3, 1, -3, 5, 0, -5, 7, 2, -2, 4, -6, 1, 3, -1, 5, -3, 0, 6, -4,
2, -2, 5, 0, -4, 3, 1, -5, 6, -1, 2, -3, 4, 0, -6, 3, 1, 5, -2, 0, 4, -4, 2, -1, 3,
-3, 6, 1, -2, 4, 0, -5, 3, 2, -1, 5, -4, 0, 3, -2, 7, 1, -3, 2, 4, -1, 0, -5, 3, 1,
2, -4, 3, 0, -2, 4, 1, -3, 2, 0, -1, 3, -2, 1, 2, 0, -1, 1, 2, -2, 0, 1, -1, 2, 0,
0, 1, -1, 0, 2, -1, 0, 1, -1, 1, 0, -2, 1, 0, -1, 1, 0, 2, -1, 0, 1, -1, 0, 1, -1,
1, 0, -1, 1, 0, -1, 2, 0, -1, 1, 0, -1, 1, -2, 0, 1, -1, 0, 1, 0, -1, 2, -1, 0, 1,
-1, 0, 1, -1, 2, 0, -1, 1, 0, -2, 1, 0, -1, 1, 0, 1, -1, 0, 2, -1, 1, 0, -1, 0, 1,
0, -1, 2, 0, -1, 1, -1, 0, 1, -2, 0, 1, 1, -1, 0, 1, -1, 2, 0, -1, 0, 1, -1, 0, 1,
-1, 1, 0, -1, 2, 0, -1, 1, 0, -1, 1, 0, -2, 1, 0, -1, 2, 0, 1, -1, 0, 1, -1, 0, 2,
0, -1, 1, 0, -2, 1, 0, -1, 1, 2, -1, 0, 1, -1, 0, 1, -2, 0, 1, -1, 0, 2, -1, 0, 1,
1, -1, 0, 2, -1, 0, 1, -1, 0, 1, -2, 1, 0, -1, 1, 0, -1, 2, 0, -1, 1, 0, -1, 1, 0,
-1, 2, 0, -1, 1, 0, -1, 1, -2, 0, 1, -1, 0, 2, 1, -1, 0, 1, -1, 0, 1, -2, 0, 1, -1,
0, 1, -1, 2, 0, -1, 1, 0, -1, 1, 0, 2, -1, 0, -2, 1, 0, 1, -1, 0, 1, -1, 2, 0, -1,
1, 0, -2, 1, 0, -1, 1, 2, 0, -1, 1, 0, -1, 1, 0, -2, 1, 0, -1, 2, 0, 1, -1, 0, 1,
-1, 0, 1, -1, 2, 0, -1, 1, 0, -1, -2, 1, 0, 1, -1, 0, 2, -1, 0, 1, -1, 1, 0, -2, 1,
0, -1, 1, 0, 2, -1, 0, 1, -1, 0, 1, -1, 2, 0, -1, 1, 0, -2, 1, 0, -1, 1, 0, 1, -1,
2, 0, -1, 1, 0, -1, 1, -2, 0, 1, -1, 0, 2, -1, 1, 0, -1, 1, 0, -1, 2, 0, -1, 1, 0,
-1, 1, 0, -2, 1, 0, 1, -1, 0, 2, -1, 0, 1, -1, 0, 1, -2, 1, 0, -1, 1, 0, 2, -1, 0,
1, -1, 0, 1, -1, 2, 0, -1, 1, 0, -2, 1, 0, -1, 1, 0, 1, -1, 2, 0, -1, 0, 1, -1, 0,
-1, 1, 0, 2, -1, 0, 1, -1, 0, 1, -1, 0, -2, 1, 0, 1, -1, 2, 0, -1, 1, 0, -1, 1, 0,
1, -1, 0, 1, 0, -1, 1, 0, -1, 1, 0, -1, 0
];

const titles = ['1st diff AdjustedClose BTC', '1st diff AdjustedClose ETH', '1st diff AdjustedClose USDT'];
const yLabels = ['BTCAdjdiff', 'ETHAdjdiff', 'USDTAdjdiff'];
const oddSeries = [btcOdd, ethOdd, usdtOdd];
const evenSeries = [btcEven, ethEven, usdtEven];
const units = [100, 10, 0.001];
const yTicks = [[-5000, 0, 5000], [-500, 0, 500], [-0.04, 0, 0.04]];
const xTicks = [0, 500, 1000, 1500];

const width = 1151;
const height = 1430;
const plotLeft = 112, plotRight = 1156;
const boxTop = 95, boxHeight = 208;
const panelGap = 505;

// R style labels: plain hyphen minus, no thousands separator
const yFormats = [
    d => String(d),
    d => String(d),
    d => d.toFixed(2)
];

const svg = d3.select('.plots')
    .append('svg')
    .attr('width', width)
    .attr('height', height)
    .style('font-family', '"Liberation Sans", Arial, sans-serif');

// R pads the data range by 4% on each side
function rPad(lo, hi) {
    const d = (hi - lo) * 0.04;
    return [lo - d, hi + d];
}

oddSeries.forEach(function(odd, k) {
    const top = k * panelGap;
    const g = svg.append('g');
    const data = odd.map(function(v, i) {
        return {idx: 1 + 2 * i, val: v * units[k]};
    }).concat(evenSeries[k].map(function(v, i) {
        return {idx: 2 + 2 * i, val: v * units[k]};
    }));
    data.sort((a, b) => a.idx - b.idx);

    const x = d3.scaleLinear()
        .domain(rPad(1, nDays))
        .range([plotLeft, plotRight]);
    const y = d3.scaleLinear()
        .domain(rPad(d3.min(data, d => d.val), d3.max(data, d => d.val)))
        .range([top + boxTop + boxHeight, top + boxTop]);

    g.append('text')
        .attr('x', (plotLeft + plotRight) / 2)
        .attr('y', top + 33)
        .attr('text-anchor', 'middle')
        .attr('font-size', '27px')
        .attr('font-weight', 'bold')
        .text(titles[k]);

    g.selectAll('circle')
        .data(data)
        .enter()
        .append('circle')
        .attr('cx', d => x(d.idx))
        .attr('cy', d => y(d.val))
        .attr('r', 4.5)
        .attr('fill', 'none')
        .attr('stroke', '#000')
        .attr('stroke-width', 1.5);

    g.append('rect')
        .attr('x', plotLeft)
        .attr('y', top + boxTop)
        .attr('width', plotRight - plotLeft)
        .attr('height', boxHeight)
        .attr('fill', 'none')
        .attr('stroke', '#222')
        .attr('stroke-width', 1.3);

    const xAxis = g.append('g')
        .attr('transform', 'translate(0,' + (top + boxTop + boxHeight) + ')')
        .call(d3.axisBottom(x).tickValues(xTicks).tickFormat(d => String(d)).tickSize(15).tickPadding(22));
    xAxis.select('.domain').remove();
    xAxis.selectAll('text').attr('font-size', '22px').attr('fill', '#000');
    xAxis.selectAll('line').attr('stroke', '#222').attr('stroke-width', 1.2);

    const yAxis = g.append('g')
        .attr('transform', 'translate(' + plotLeft + ',0)')
        .call(d3.axisLeft(y).tickValues(yTicks[k]).tickSize(14).tickFormat(yFormats[k]));
    yAxis.select('.domain').remove();
    yAxis.selectAll('line').attr('stroke', '#222').attr('stroke-width', 1.2);
    yAxis.selectAll('text')
        .attr('x', null)
        .attr('dy', null)
        .attr('text-anchor', 'middle')
        .attr('font-size', '22px')
        .attr('fill', '#000')
        .attr('transform', 'translate(-31,0) rotate(-90)');

    g.append('text')
        .attr('x', 634)
        .attr('y', top + 415)
        .attr('text-anchor', 'middle')
        .attr('font-size', '22px')
        .text('Index');

    g.append('text')
        .attr('transform', 'translate(32,' + (top + boxTop + boxHeight / 2) + ') rotate(-90)')
        .attr('text-anchor', 'middle')
        .attr('font-size', '23px')
        .text(yLabels[k]);
});
</script>
</body>
</html>
